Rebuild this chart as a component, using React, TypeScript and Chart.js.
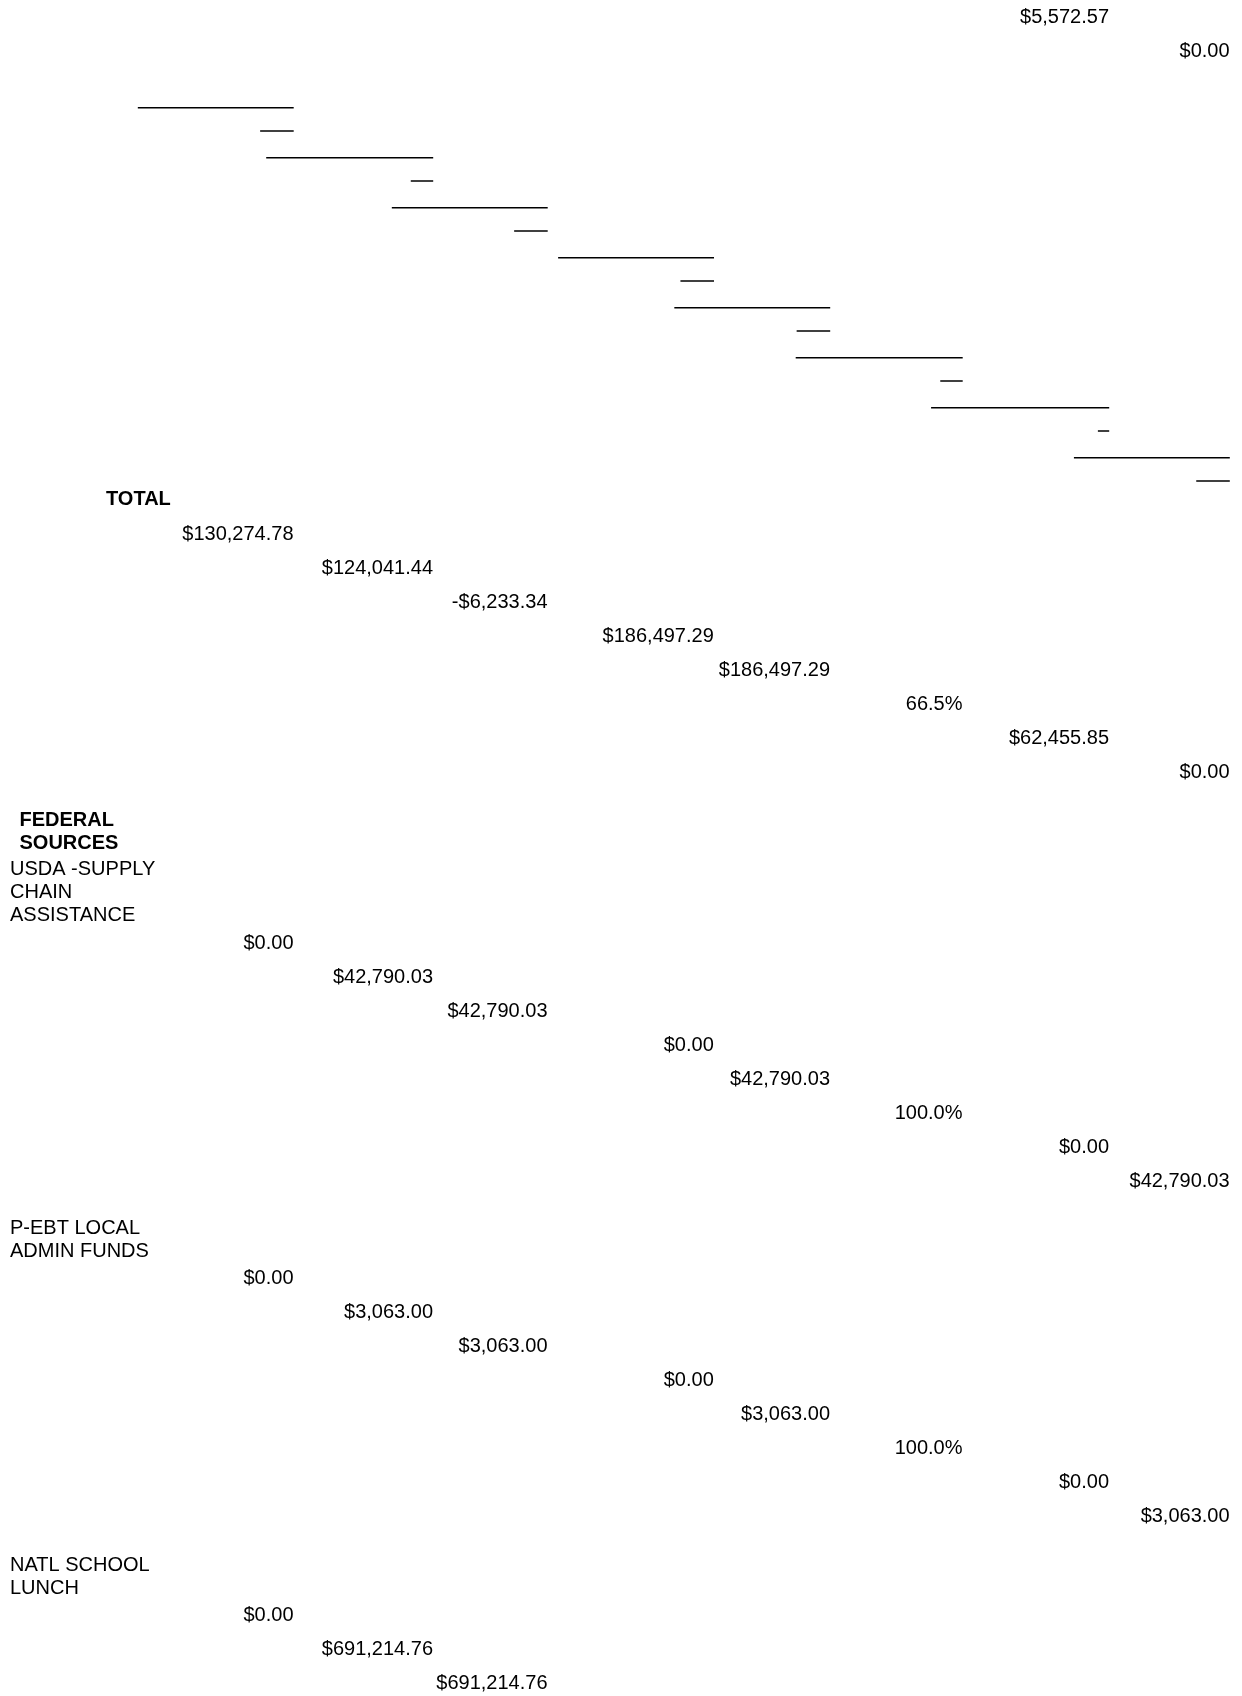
import { useEffect, useRef } from "react";
import { Chart, registerables } from "chart.js";

Chart.register(...registerables);

// ---------------- data ----------------
const carryOverValues = ["$5,572.57", "$0.00"];
const carryOverColumns = [6, 7];

const totalLabel = ["TOTAL"];
const totalValues = [
  "$130,274.78",
  "$124,041.44",
  "-$6,233.34",
  "$186,497.29",
  "$186,497.29",
  "66.5%",
  "$62,455.85",
  "$0.00",
];

const federalHeading = ["FEDERAL", "SOURCES"];

const usdaLabel = ["USDA -SUPPLY", "CHAIN", "ASSISTANCE"];
const usdaValues = [
  "$0.00",
  "$42,790.03",
  "$42,790.03",
  "$0.00",
  "$42,790.03",
  "100.0%",
  "$0.00",
  "$42,790.03",
];

const pebtLabel = ["P-EBT LOCAL", "ADMIN FUNDS"];
const pebtValues = [
  "$0.00",
  "$3,063.00",
  "$3,063.00",
  "$0.00",
  "$3,063.00",
  "100.0%",
  "$0.00",
  "$3,063.00",
];

const nslLabel = ["NATL SCHOOL", "LUNCH"];
const nslValues = ["$0.00", "$691,214.76", "$691,214.76"];

// header rules, counted in underscore characters per column
const ruleLongUnderscores = [14, 15, 14, 14, 14, 15, 16, 14];
const ruleShortUnderscores = [3, 2, 3, 3, 3, 2, 1, 3];

// ---------------- layout ----------------
const PAGE_W = 1242;
const PAGE_H = 1696;
const FONT_PX = 20;
const FONT_FAMILY = '"Liberation Sans", Arial, Helvetica, sans-serif';
const CAP_HALF = FONT_PX * 0.358;
const UNDERSCORE_W = FONT_PX * 0.556;

const COLUMN_RIGHT = [293.5, 433, 547.5, 713.8, 830, 962.5, 1109, 1229.6];
const LABEL_X = 10;
const HEADING_X = 19.5;
const TOTAL_X = 106;

const VALUE_PITCH = 34;
const LABEL_LINE = 22.8;
const CARRY_Y = 16;
const RULE_TOP = 107.7;
const RULE_PITCH = 50;
const RULE_SHORT_OFFSET = 23.3;
const TOTAL_LABEL_Y = 498.3;
const TOTAL_FIRST_Y = 532.7;
const FEDERAL_Y = 819;
const USDA_LABEL_Y = 868.3;
const USDA_FIRST_Y = 941.7;
const PEBT_LABEL_Y = 1227.3;
const PEBT_FIRST_Y = 1277.3;
const NSL_LABEL_Y = 1563.7;
const NSL_FIRST_Y = 1613.7;

type TextSet = {
  texts: string[];
  xs: number[];
  ys: number[];
  align: "left" | "right";
  bold?: boolean;
};

function valueSet(values: string[], firstY: number, cols?: number[]): TextSet {
  const c = cols ?? values.map((_, i) => i);
  return {
    texts: values,
    xs: c.map((ci) => COLUMN_RIGHT[ci]),
    ys: values.map((_, i) => firstY + i * VALUE_PITCH),
    align: "right",
  };
}

function labelSet(lines: string[], x: number, firstY: number, bold = false): TextSet {
  return {
    texts: lines,
    xs: lines.map(() => x),
    ys: lines.map((_, i) => firstY + i * LABEL_LINE),
    align: "left",
    bold,
  };
}

const textPlugin = {
  id: "cellText",
  afterDatasetsDraw(chart: any) {
    const ctx = chart.ctx as CanvasRenderingContext2D;
    chart.data.datasets.forEach((ds: any, i: number) => {
      if (!ds.texts) return;
      const meta = chart.getDatasetMeta(i);
      ctx.save();
      ctx.fillStyle = "#000";
      ctx.font = `${ds.bold ? "bold " : ""}${FONT_PX}px ${FONT_FAMILY}`;
      ctx.textAlign = ds.align;
      ctx.textBaseline = "alphabetic";
      meta.data.forEach((el: any, j: number) => {
        ctx.fillText(ds.texts[j], el.x, el.y + CAP_HALF);
      });
      ctx.restore();
    });
  },
};

export default function App() {
  const canvasRef = useRef<HTMLCanvasElement | null>(null);

  useEffect(() => {
    if (!canvasRef.current) return;

    const textSets: TextSet[] = [
      {
        texts: carryOverValues,
        xs: carryOverColumns.map((c) => COLUMN_RIGHT[c]),
        ys: carryOverValues.map((_, i) => CARRY_Y + i * VALUE_PITCH),
        align: "right",
      },
      labelSet(totalLabel, TOTAL_X, TOTAL_LABEL_Y, true),
      valueSet(totalValues, TOTAL_FIRST_Y),
      labelSet(federalHeading, HEADING_X, FEDERAL_Y, true),
      labelSet(usdaLabel, LABEL_X, USDA_LABEL_Y),
      valueSet(usdaValues, USDA_FIRST_Y),
      labelSet(pebtLabel, LABEL_X, PEBT_LABEL_Y),
      valueSet(pebtValues, PEBT_FIRST_Y),
      labelSet(nslLabel, LABEL_X, NSL_LABEL_Y),
      valueSet(nslValues, NSL_FIRST_Y),
    ];

    const textDatasets = textSets.map((s) => ({
      type: "scatter" as const,
      data: s.xs.map((x, i) => ({ x, y: s.ys[i] })),
      pointRadius: 0,
      pointHoverRadius: 0,
      showLine: false,
      texts: s.texts,
      align: s.align,
      bold: !!s.bold,
    }));

    const ruleDatasets: any[] = [];
    COLUMN_RIGHT.forEach((right, c) => {
      const y = RULE_TOP + c * RULE_PITCH;
      const end = right + 0.2;
      const segs = [
        { n: ruleLongUnderscores[c], y },
        { n: ruleShortUnderscores[c], y: y + RULE_SHORT_OFFSET },
      ];
      segs.forEach((s) => {
        ruleDatasets.push({
          type: "scatter",
          data: [
            { x: end - s.n * UNDERSCORE_W - 0.2, y: s.y },
            { x: end, y: s.y },
          ],
          showLine: true,
          borderColor: "#000",
          borderWidth: 1.5,
          borderCapStyle: "butt",
          pointRadius: 0,
          pointHoverRadius: 0,
          fill: false,
        });
      });
    });

    const chart = new Chart(canvasRef.current, {
      type: "scatter",
      data: { datasets: [...ruleDatasets, ...textDatasets] as any },
      options: {
        responsive: false,
        maintainAspectRatio: false,
        devicePixelRatio: 1,
        animation: false,
        events: [],
        layout: { padding: 0 },
        plugins: {
          legend: { display: false },
          tooltip: { enabled: false },
          title: { display: false },
        },
        scales: {
          x: { type: "linear", min: 0, max: PAGE_W, display: false },
          y: { type: "linear", min: 0, max: PAGE_H, reverse: true, display: false },
        },
      },
      plugins: [textPlugin],
    });

    return () => chart.destroy();
  }, []);

  return (
    <div
      style={{
        position: "absolute",
        left: 0,
        top: 0,
        width: PAGE_W,
        height: PAGE_H,
        background: "#fff",
      }}
    >
      <canvas
        ref={canvasRef}
        width={PAGE_W}
        height={PAGE_H}
        style={{ display: "block", width: PAGE_W, height: PAGE_H }}
      />
    </div>
  );
}
